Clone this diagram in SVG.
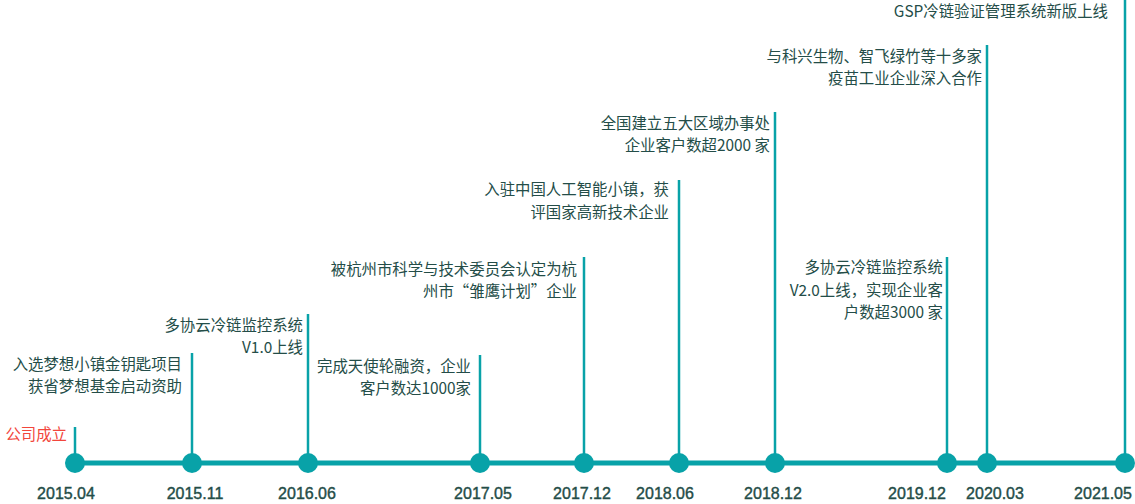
<svg xmlns="http://www.w3.org/2000/svg" width="1135" height="504" viewBox="0 0 1135 504">
<style>
.axis{stroke:#08a2a8;stroke-width:5;fill:none}
.stem{stroke:#08a2a8;stroke-width:2.5;fill:none}
.dot{fill:#08a2a8}
.lbl{font-family:"Noto Sans CJK SC","Liberation Sans",sans-serif;font-size:15.4px;fill:#244d48;text-anchor:end}
.red{fill:#f2463c}
.date{font-family:"Liberation Sans","Noto Sans CJK SC",sans-serif;font-size:16px;fill:#244d48;stroke:#244d48;stroke-width:0.4;text-anchor:middle}
</style>
<rect width="1135" height="504" fill="#ffffff"/>
<g id="connectors">
<line class="axis" x1="75" y1="463" x2="1125" y2="463"/>
<line class="stem" x1="75" y1="427" x2="75" y2="463"/>
<line class="stem" x1="192" y1="353" x2="192" y2="463"/>
<line class="stem" x1="308" y1="314" x2="308" y2="463"/>
<line class="stem" x1="480" y1="355" x2="480" y2="463"/>
<line class="stem" x1="584" y1="257" x2="584" y2="463"/>
<line class="stem" x1="679" y1="180" x2="679" y2="463"/>
<line class="stem" x1="775" y1="112" x2="775" y2="463"/>
<line class="stem" x1="947" y1="257" x2="947" y2="463"/>
<line class="stem" x1="987" y1="45" x2="987" y2="463"/>
<line class="stem" x1="1125" y1="0" x2="1125" y2="463"/>
</g>
<g id="n2015-04">
<circle class="dot" cx="75" cy="463" r="10"/>
<text class="lbl red" x="67" y="440">公司成立</text>
<text class="date" x="66" y="499">2015.04</text>
</g>
<g id="n2015-11">
<circle class="dot" cx="192" cy="463" r="10"/>
<text class="lbl" x="182" y="370">入选梦想小镇金钥匙项目</text>
<text class="lbl" x="182" y="392">获省梦想基金启动资助</text>
<text class="date" x="195" y="499">2015.11</text>
</g>
<g id="n2016-06">
<circle class="dot" cx="308" cy="463" r="10"/>
<text class="lbl" x="303" y="331">多协云冷链监控系统</text>
<text class="lbl" x="303" y="353">V1.0上线</text>
<text class="date" x="307" y="499">2016.06</text>
</g>
<g id="n2017-05">
<circle class="dot" cx="480" cy="463" r="10"/>
<text class="lbl" x="471" y="372">完成天使轮融资，企业</text>
<text class="lbl" x="471" y="394">客户数达1000家</text>
<text class="date" x="483" y="499">2017.05</text>
</g>
<g id="n2017-12">
<circle class="dot" cx="584" cy="463" r="10"/>
<text class="lbl" x="577" y="275">被杭州市科学与技术委员会认定为杭</text>
<text class="lbl" x="577" y="297">州市“雏鹰计划”企业</text>
<text class="date" x="582" y="499">2017.12</text>
</g>
<g id="n2018-06">
<circle class="dot" cx="679" cy="463" r="10"/>
<text class="lbl" x="669" y="195">入驻中国人工智能小镇，获</text>
<text class="lbl" x="669" y="218">评国家高新技术企业</text>
<text class="date" x="665" y="499">2018.06</text>
</g>
<g id="n2018-12">
<circle class="dot" cx="775" cy="463" r="10"/>
<text class="lbl" x="770" y="129">全国建立五大区域办事处</text>
<text class="lbl" x="770" y="151">企业客户数超2000 家</text>
<text class="date" x="773" y="499">2018.12</text>
</g>
<g id="n2019-12">
<circle class="dot" cx="947" cy="463" r="10"/>
<text class="lbl" x="943" y="273">多协云冷链监控系统</text>
<text class="lbl" x="943" y="296">V2.0上线，实现企业客</text>
<text class="lbl" x="943" y="318">户数超3000 家</text>
<text class="date" x="917" y="499">2019.12</text>
</g>
<g id="n2020-03">
<circle class="dot" cx="987" cy="463" r="10"/>
<text class="lbl" x="982" y="62">与科兴生物、智飞绿竹等十多家</text>
<text class="lbl" x="982" y="84">疫苗工业企业深入合作</text>
<text class="date" x="995" y="499">2020.03</text>
</g>
<g id="n2021-05">
<circle class="dot" cx="1125" cy="463" r="10"/>
<text class="lbl" x="1108" y="17">GSP冷链验证管理系统新版上线</text>
<text class="date" x="1103" y="499">2021.05</text>
</g>
</svg>
